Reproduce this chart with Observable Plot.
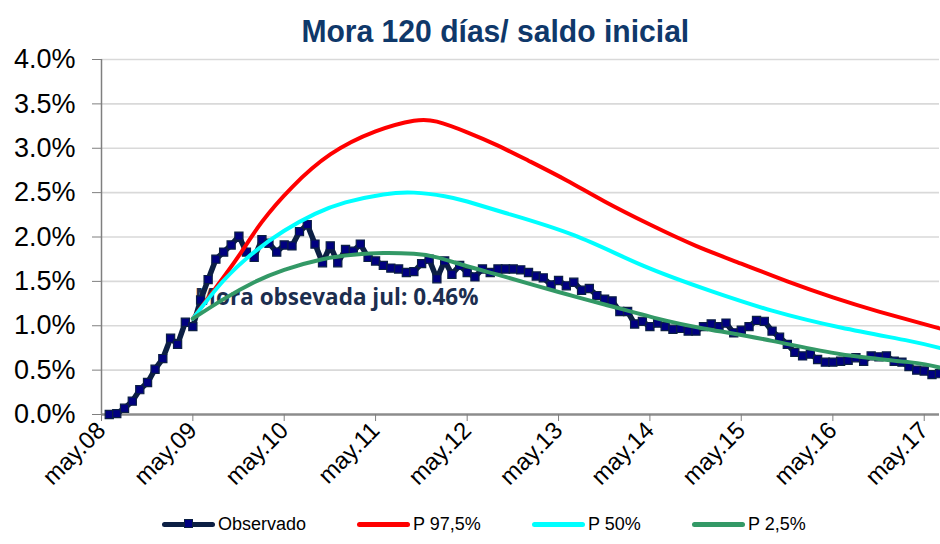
<!DOCTYPE html>
<html>
<head>
<meta charset="utf-8">
<script src="https://cdn.jsdelivr.net/npm/d3@7"></script>
<script src="https://cdn.jsdelivr.net/npm/@observablehq/plot@0.6"></script>
<style>
  body { margin: 0; background: #fff; width: 940px; height: 544px; position: relative; overflow: hidden; font-family: "Liberation Sans", Arial, sans-serif; }
  #titulo { position: absolute; top: 13px; left: 0; width: 990px; text-align: center; }
  #titulo span { display: inline-block; font-family: "Liberation Sans Narrow", "Liberation Sans", Arial, sans-serif; font-weight: bold; font-size: 32px; color: #0f386a; transform: scaleX(0.94); }
  #grafico { position: absolute; top: 48px; left: 0; }
  .leg { position: absolute; top: 513px; height: 22px; display: flex; align-items: center; font-size: 18px; color: #000; }
  .sw { position: relative; width: 53px; height: 5px; border-radius: 3px; margin-right: 3px; }
  .sq { position: absolute; left: 22px; top: -2.5px; width: 9px; height: 9px; background: #000080; border: 1px solid #0c1f44; box-sizing: border-box; }
</style>
</head>
<body>
<div id="titulo"><span>Mora 120 días/ saldo inicial</span></div>
<div id="grafico"></div>
<div id="leyenda"></div>
<script>
// ---- Datos ----
// Observado: mensual desde jun.08 hasta jul.17 (%)
const inicioObservado = [2008, 5]; // año, mes (0 = enero) -> jun.08
const observado = [
  0.00, 0.01, 0.07, 0.15, 0.28, 0.36, 0.51,
  0.63, 0.86, 0.79, 1.04, 0.99, 1.29, 1.52, 1.75, 1.83, 1.91, 2.01, 1.83,
  1.77, 1.97, 1.93, 1.83, 1.91, 1.90, 2.06, 2.14, 1.92, 1.71, 1.90, 1.71,
  1.86, 1.84, 1.92, 1.77, 1.73, 1.68, 1.65, 1.64, 1.60, 1.61, 1.70, 1.75,
  1.53, 1.73, 1.58, 1.68, 1.60, 1.55, 1.64, 1.60, 1.64, 1.64, 1.64, 1.63,
  1.60, 1.56, 1.54, 1.46, 1.51, 1.45, 1.49, 1.40, 1.42, 1.34, 1.30, 1.28,
  1.16, 1.16, 1.02, 1.05, 0.99, 1.03, 0.99, 0.96, 0.97, 0.94, 0.94, 0.99,
  1.02, 0.99, 1.03, 0.92, 0.95, 0.99, 1.06, 1.05, 0.94, 0.87, 0.79, 0.70,
  0.66, 0.68, 0.62, 0.59, 0.59, 0.60, 0.61, 0.64, 0.60, 0.66, 0.65, 0.66,
  0.60, 0.59, 0.54, 0.50, 0.49, 0.45, 0.46
];

// Percentiles proyectados (meses contados desde may.08)
const p975Meses = [12, 15, 18, 21, 25, 30, 36, 41, 44, 48, 52, 56, 61, 66, 72, 78, 84, 90, 96, 102, 110];
const p975 =      [1.08, 1.43, 1.79, 2.17, 2.56, 2.93, 3.19, 3.31, 3.30, 3.18, 3.03, 2.86, 2.64, 2.40, 2.14, 1.90, 1.70, 1.50, 1.32, 1.16, 0.97];

const p50Meses = [12, 16, 20, 24, 28, 32, 37, 41, 45, 48, 53, 62, 71, 80, 88, 97, 106, 110];
const p50 =      [1.08, 1.51, 1.83, 2.07, 2.26, 2.39, 2.48, 2.50, 2.46, 2.40, 2.27, 2.02, 1.68, 1.39, 1.17, 0.98, 0.83, 0.75];

const p25Meses = [12, 16, 20, 24, 29, 33, 37, 41, 44, 48, 53, 60, 66, 73, 79, 88, 97, 106, 110];
const p25 =      [1.08, 1.30, 1.49, 1.63, 1.75, 1.80, 1.82, 1.81, 1.77, 1.67, 1.55, 1.38, 1.24, 1.08, 0.97, 0.83, 0.68, 0.59, 0.53];

const ticksY = [0, 0.5, 1.0, 1.5, 2.0, 2.5, 3.0, 3.5, 4.0];
const etiquetasX = ["may.08", "may.09", "may.10", "may.11", "may.12", "may.13", "may.14", "may.15", "may.16", "may.17"];
const series = ["Observado", "P 97,5%", "P 50%", "P 2,5%"];
const colores = ["#0c1f44", "#ff0000", "#00ffff", "#339966"];
const anotacion = "Mora obsevada jul: 0.46%";

// ---- Construcción ----
const fecha = (a, m) => new Date(Date.UTC(a, m, 1));
const base = fecha(2008, 4);
const mesAFecha = (k) => fecha(2008, 4 + k);
const obs = observado.map((v, i) => ({fecha: fecha(inicioObservado[0], inicioObservado[1] + i), v}));
const serie = (meses, vals) => meses.map((m, i) => ({fecha: mesAFecha(m), v: vals[i]}));
const s975 = serie(p975Meses, p975);
const s50 = serie(p50Meses, p50);
const s25 = serie(p25Meses, p25);
const ticksX = etiquetasX.map((_, i) => fecha(2008 + i, 4));

const chart = Plot.plot({
  width: 940,
  height: 462,
  marginTop: 11,
  marginBottom: 96,
  marginLeft: 101,
  marginRight: 1,
  style: {fontFamily: "'Liberation Sans', Arial, sans-serif", background: "transparent", overflow: "visible"},
  x: {type: "utc", domain: [base, mesAFecha(110)]},
  y: {domain: [0, 4]},
  marks: [
    Plot.ruleY(ticksY.slice(1), {stroke: "#d9d9d9", strokeWidth: 1.6}),
    Plot.text([anotacion], {x: mesAFecha(12), y: 1.32, text: d => d, textAnchor: "start", dx: 2,
      fontFamily: "'Open Sans', Lato, sans-serif", fontWeight: "bold", fontSize: 22.5, fill: "#1c2e4f"}),
    Plot.ruleX([base], {stroke: "#7f7f7f", strokeWidth: 1.5}),
    Plot.ruleY([0], {stroke: "#8c8c8c", strokeWidth: 2.5}),
    Plot.line(obs, {x: "fecha", y: "v", stroke: colores[0], strokeWidth: 5.5, strokeLinejoin: "round"}),
    Plot.dot(obs, {x: "fecha", y: "v", symbol: "square", r: 4.6, fill: "#000080", stroke: colores[0], strokeWidth: 1.2}),
    Plot.line(s975, {x: "fecha", y: "v", stroke: colores[1], strokeWidth: 4, curve: "natural"}),
    Plot.line(s50, {x: "fecha", y: "v", stroke: colores[2], strokeWidth: 4, curve: "natural"}),
    Plot.line(s25, {x: "fecha", y: "v", stroke: colores[3], strokeWidth: 4, curve: "natural"}),
    Plot.axisY({ticks: ticksY, tickFormat: d => d.toFixed(1) + "%", tickSize: 9, tickPadding: 17,
      fontSize: 27, stroke: "#7f7f7f", fill: "#000", label: null}),
    Plot.axisX({ticks: ticksX, tickFormat: d => etiquetasX[d.getUTCFullYear() - 2008], tickSize: 7,
      tickPadding: 5, tickRotate: -45, fontSize: 24, stroke: "#7f7f7f", fill: "#000", label: null})
  ]
});
document.getElementById("grafico").appendChild(chart);

// Leyenda
const posSw = [162, 357, 532, 692];
const ley = document.getElementById("leyenda");
series.forEach((s, i) => {
  const d = document.createElement("div");
  d.className = "leg";
  d.style.left = posSw[i] + "px";
  const sw = document.createElement("div");
  sw.className = "sw";
  sw.style.background = colores[i];
  if (i === 0) { const q = document.createElement("div"); q.className = "sq"; sw.appendChild(q); }
  d.appendChild(sw);
  const t = document.createElement("span");
  t.textContent = s;
  d.appendChild(t);
  ley.appendChild(d);
});
</script>
</body>
</html>
